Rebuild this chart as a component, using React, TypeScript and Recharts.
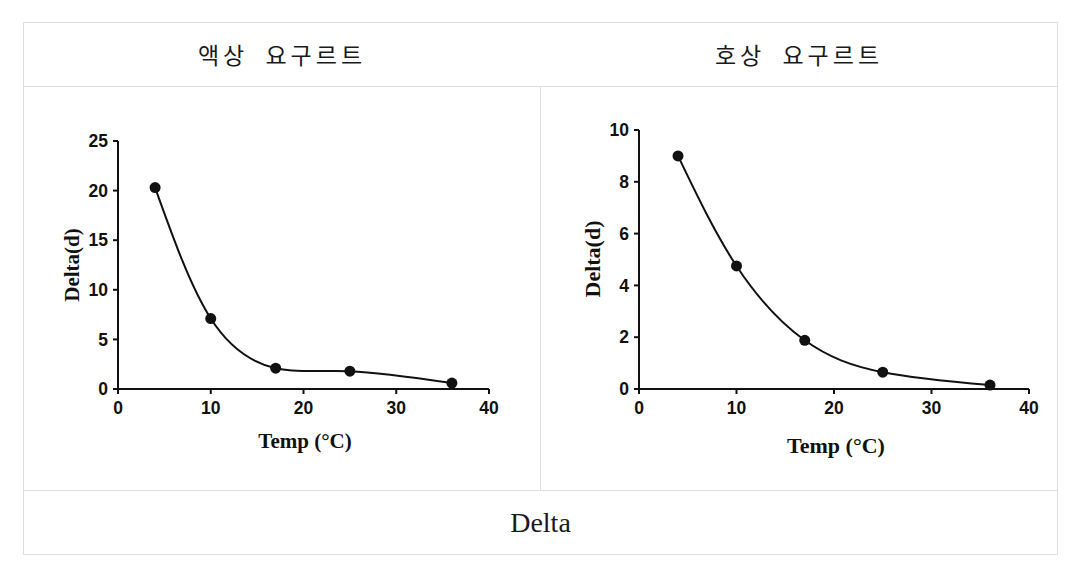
import { LineChart, Line, XAxis, YAxis } from "recharts";

// 액상 요구르트 (liquid yogurt)
const liquidTemp = [4, 10, 17, 25, 36];
const liquidDelta = [20.3, 7.1, 2.1, 1.8, 0.6];

// 호상 요구르트 (set yogurt)
const setTemp = [4, 10, 17, 25, 36];
const setDelta = [9.0, 4.75, 1.88, 0.65, 0.15];

const xTicks = [0, 10, 20, 30, 40];
const liquidYTicks = [0, 5, 10, 15, 20, 25];
const setYTicks = [0, 2, 4, 6, 8, 10];

const titles = ["액상 요구르트", "호상 요구르트"];
const caption = "Delta";
const xTitle = "Temp (°C)";
const yTitle = "Delta(d)";

const liquidData = liquidTemp.map((t, i) => ({ temp: t, delta: liquidDelta[i] }));
const setData = setTemp.map((t, i) => ({ temp: t, delta: setDelta[i] }));

const BORDER = "#dedede";
const tickStyle = {
  fill: "#111",
  fontSize: 17.5,
  fontWeight: 700,
  fontFamily: "'Liberation Sans', Arial, sans-serif",
};
const titleFont = "'Liberation Serif', 'Times New Roman', serif";

const XTitle = ({ cx, cy, size }: { cx: number; cy: number; size: number }) => (
  <text
    x={cx}
    y={cy}
    textAnchor="middle"
    dominantBaseline="central"
    fontFamily={titleFont}
    fontWeight={700}
    fontSize={size}
    fill="#111"
  >
    {xTitle}
  </text>
);

const YTitle = ({ cx, cy, size }: { cx: number; cy: number; size: number }) => (
  <text
    x={cx}
    y={cy}
    transform={`rotate(-90, ${cx}, ${cy})`}
    textAnchor="middle"
    dominantBaseline="central"
    fontFamily={titleFont}
    fontWeight={700}
    fontSize={size}
    fill="#111"
  >
    {yTitle}
  </text>
);

interface PanelProps {
  data: { temp: number; delta: number }[];
  yTicks: number[];
  yMax: number;
  margin: { top: number; right: number; bottom: number; left: number };
  yWidth: number;
  xTitlePos: [number, number];
  yTitlePos: [number, number];
  titleSize: number;
}

const Panel = ({ data, yTicks, yMax, margin, yWidth, xTitlePos, yTitlePos, titleSize }: PanelProps) => (
  <LineChart width={516} height={403} data={data} margin={margin}>
    <XAxis
      dataKey="temp"
      type="number"
      domain={[0, 40]}
      ticks={xTicks}
      interval={0}
      height={60}
      tick={tickStyle}
      tickSize={5}
      tickMargin={8}
      axisLine={{ stroke: "#111", strokeWidth: 2 }}
      tickLine={{ stroke: "#111", strokeWidth: 2 }}
      label={<XTitle cx={xTitlePos[0]} cy={xTitlePos[1]} size={titleSize} />}
    />
    <YAxis
      dataKey="delta"
      type="number"
      domain={[0, yMax]}
      ticks={yTicks}
      interval={0}
      width={yWidth}
      tick={tickStyle}
      tickSize={5}
      tickMargin={5}
      axisLine={{ stroke: "#111", strokeWidth: 2 }}
      tickLine={{ stroke: "#111", strokeWidth: 2 }}
      label={<YTitle cx={yTitlePos[0]} cy={yTitlePos[1]} size={titleSize} />}
    />
    <Line
      dataKey="delta"
      type="natural"
      stroke="#111"
      strokeWidth={2}
      dot={{ r: 5.5, fill: "#111", stroke: "#111", strokeWidth: 0 }}
      activeDot={false}
      isAnimationActive={false}
    />
  </LineChart>
);

const cell = (style: React.CSSProperties): React.CSSProperties => ({
  position: "absolute",
  boxSizing: "border-box",
  ...style,
});

const headerText: React.CSSProperties = {
  fontFamily: "'Noto Sans CJK KR', sans-serif",
  fontSize: 23,
  letterSpacing: 4,
  wordSpacing: 8,
  color: "#1a1a1a",
  textAlign: "center",
  lineHeight: "64px",
};

export default function App() {
  return (
    <div style={{ position: "absolute", left: 0, top: 0, width: 1079, height: 565, background: "#fff" }}>
      <div style={cell({ left: 23, top: 22, width: 1035, height: 533, border: `1px solid ${BORDER}` })} />
      <div style={cell({ left: 23, top: 86, width: 1035, height: 1, background: BORDER })} />
      <div style={cell({ left: 23, top: 490, width: 1035, height: 1, background: BORDER })} />
      <div style={cell({ left: 540, top: 86, width: 1, height: 405, background: BORDER })} />

      <div style={cell({ left: 24, top: 22, width: 516, height: 64, ...headerText })}>{titles[0]}</div>
      <div style={cell({ left: 541, top: 22, width: 516, height: 64, ...headerText })}>{titles[1]}</div>

      <div style={cell({ left: 24, top: 87 })}>
        <Panel
          data={liquidData}
          yTicks={liquidYTicks}
          yMax={25}
          margin={{ top: 54, right: 51, bottom: 41, left: 0 }}
          yWidth={94}
          xTitlePos={[281, 354]}
          yTitlePos={[48, 178]}
          titleSize={21}
        />
      </div>
      <div style={cell({ left: 541, top: 87 })}>
        <Panel
          data={setData}
          yTicks={setYTicks}
          yMax={10}
          margin={{ top: 43, right: 28, bottom: 41, left: 0 }}
          yWidth={98}
          xTitlePos={[295, 358]}
          yTitlePos={[51, 172]}
          titleSize={22}
        />
      </div>

      <div
        style={cell({
          left: 24,
          top: 491,
          width: 1033,
          height: 63,
          textAlign: "center",
          lineHeight: "63px",
          fontFamily: titleFont,
          fontSize: 28,
          color: "#1a1a1a",
        })}
      >
        {caption}
      </div>
    </div>
  );
}
